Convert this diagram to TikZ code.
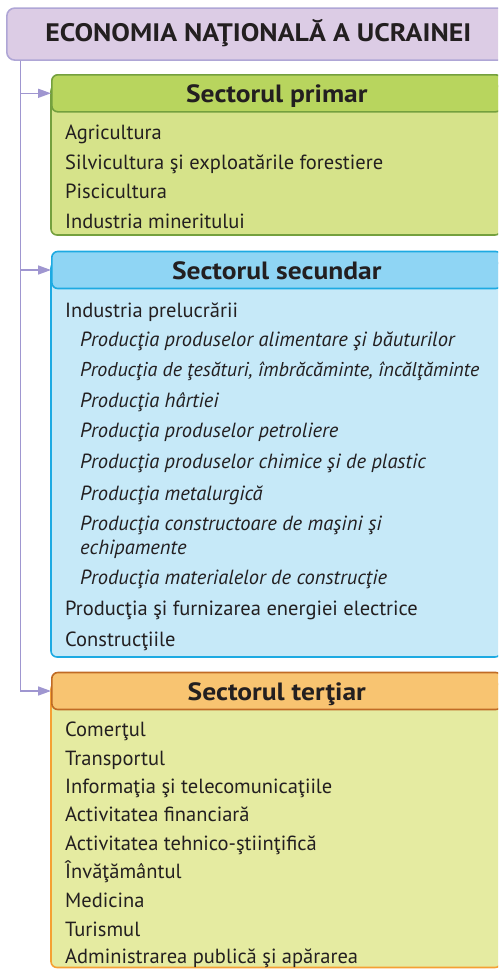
\documentclass[tikz,border=0pt]{standalone}
\usepackage{fontspec}
\setmainfont{PT Sans}[BoldFeatures={FakeStretch=1.1}]
\usetikzlibrary{arrows.meta,positioning}
\definecolor{ink}{HTML}{231F20}
\definecolor{lin}{HTML}{9F96D0}
\definecolor{titlefill}{HTML}{DCCCE5}
\definecolor{titlebord}{HTML}{AFA6D6}
\definecolor{prihead}{HTML}{B8D55E}
\definecolor{pribody}{HTML}{D6E38A}
\definecolor{pribord}{HTML}{74A03E}
\definecolor{sechead}{HTML}{8FD5F4}
\definecolor{secbody}{HTML}{C6E9F8}
\definecolor{secbord}{HTML}{1DAAE2}
\definecolor{terhead}{HTML}{F8C471}
\definecolor{terbody}{HTML}{E5EBA1}
\definecolor{terhbord}{HTML}{C06B25}
\definecolor{terbord}{HTML}{F5A033}
\begin{document}
\begin{tikzpicture}[x=1pt,y=-1pt,
	every node/.style={inner sep=0pt,text=ink},
	item/.style={anchor=base west,align=left,font=\fontsize{20.5}{24}\selectfont},
	subitem/.style={item,font=\fontsize{20.5}{24}\selectfont\itshape},
	headbox/.style={draw=#1,line width=1.6pt,rounded corners=6pt,anchor=north west,
		minimum width=450pt,minimum height=37pt,text height=22pt,text depth=3pt,
		font=\fontsize{25}{25}\selectfont\bfseries},
	bodybox/.style={draw=#1,line width=1.6pt,rounded corners=6pt},
	conn/.style={draw=lin,line width=1.6pt,-{Triangle[length=13pt,width=9pt]}}]
		\clip (0,0) rectangle (498,969);
		\node[draw=titlebord,fill=titlefill,line width=1.6pt,rounded corners=8pt,anchor=north west,
			minimum width=503pt,minimum height=52pt,text height=17pt,text depth=2pt,
			font=\fontsize{25.3}{26}\selectfont\bfseries] (title) at (6,7.3) {ECONOMIA NAŢIONALĂ A UCRAINEI};
		\draw[bodybox=pribord,fill=pribody] (51,85) rectangle (501,235);
		\node[headbox=pribord,fill=prihead] (primar) at (51,74) {Sectorul primar};
		\node[item] (p1) at (65,139.3) {Agricultura};
		\node[item] (p2) at (65,169) {Silvicultura şi exploatările forestiere};
		\node[item] (p3) at (65,198.7) {Piscicultura};
		\node[item] (p4) at (65,228.3) {Industria mineritului};
		\draw[bodybox=secbord,fill=secbody] (51,262) rectangle (501,657);
		\node[headbox=secbord,fill=sechead] (secundar) at (51,250.7) {Sectorul secundar};
		\node[item] (s1) at (65,317) {Industria prelucrării};
		\node[subitem] (s2) at (80,346.7) {Producţia produselor alimentare şi băuturilor};
		\node[subitem,font=\fontsize{20}{24}\selectfont\itshape] (s3) at (80,376.7) {Producţia de ţesături, îmbrăcăminte, încălţăminte};
		\node[subitem] (s4) at (80,407) {Producţia hârtiei};
		\node[subitem] (s5) at (80,437.5) {Producţia produselor petroliere};
		\node[subitem] (s6) at (80,468) {Producţia produselor chimice şi de plastic};
		\node[subitem] (s7) at (80,500) {Producţia metalurgică};
		\node[subitem] (s8) at (80,554) {Producţia constructoare de maşini şi\\echipamente};
		\node[subitem] (s9) at (80,584) {Producţia materialelor de construcţie};
		\node[item] (s10) at (65,615) {Producţia şi furnizarea energiei electrice};
		\node[item] (s11) at (65,646) {Construcţiile};
		\draw[bodybox=terbord,fill=terbody] (51,683) rectangle (501,967.5);
		\node[headbox=terhbord,fill=terhead] (tertiar) at (51,671.7) {Sectorul terţiar};
		\node[item] (t1) at (65,736.7) {Comerţul};
		\node[item] (t2) at (65,765) {Transportul};
		\node[item] (t3) at (65,793.3) {Informaţia şi telecomunicaţiile};
		\node[item] (t4) at (65,821.7) {Activitatea financiară};
		\node[item] (t5) at (65,850) {Activitatea tehnico-ştiinţifică};
		\node[item] (t6) at (65,878.3) {Învăţământul};
		\node[item] (t7) at (65,907.3) {Medicina};
		\node[item] (t8) at (65,936) {Turismul};
		\node[item] (t9) at (65,963.3) {Administrarea publică şi apărarea};
		\draw[conn] (title.south west) ++(14.5,0) |- (primar.west);
		\draw[conn] (title.south west) ++(14.5,0) |- (secundar.west);
		\draw[conn] (title.south west) ++(14.5,0) |- (tertiar.west);
	    \end{tikzpicture}
\end{document}
